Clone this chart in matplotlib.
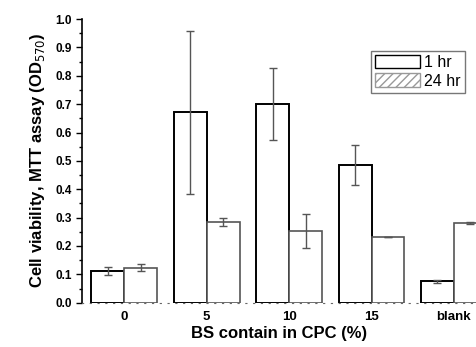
import matplotlib
matplotlib.use("Agg")
import matplotlib.pyplot as plt
from matplotlib.patches import Patch
from matplotlib.ticker import MultipleLocator, FormatStrFormatter
import numpy as np

plt.rcParams['font.family'] = ['Liberation Sans', 'DejaVu Sans']

# data
groups = ["0", "5", "10", "15", "blank"]
od_1hr = [0.112, 0.672, 0.700, 0.485, 0.075]
err_1hr = [0.015, 0.287, 0.126, 0.070, 0.005]
od_24hr = [0.124, 0.285, 0.252, 0.233, 0.282]
err_24hr = [0.012, 0.013, 0.060, 0.0, 0.003]

x = np.arange(len(groups))
w = 0.4

fig = plt.figure(figsize=(4.76, 3.47), dpi=100)
ax = fig.add_axes([0.1723, 0.1277, 0.8277, 0.8173])

ax.bar(x - w / 2, od_1hr, w, facecolor='white', edgecolor='black', linewidth=1.4,
       yerr=err_1hr, error_kw=dict(ecolor='#555555', elinewidth=1, capsize=3, capthick=1))
ax.bar(x + w / 2, od_24hr, w, facecolor='white', edgecolor='#555555', linewidth=1.2,
       yerr=err_24hr, error_kw=dict(ecolor='#555555', elinewidth=1, capsize=3, capthick=1))

ax.set_xlim(-0.51, 4.267)
ax.set_ylim(0, 1.0)
ax.yaxis.set_major_locator(MultipleLocator(0.1))
ax.yaxis.set_minor_locator(MultipleLocator(0.05))
ax.yaxis.set_major_formatter(FormatStrFormatter('%.1f'))
ax.tick_params(axis='y', which='major', length=4, width=1, direction='out', labelsize=8.5)
ax.tick_params(axis='y', which='minor', length=2.5, width=1, direction='out')
for lab in ax.get_yticklabels():
    lab.set_fontweight('bold')
ax.set_xticks(x)
ax.set_xticklabels(groups, fontsize=9.5, fontweight='bold')
ax.tick_params(axis='x', length=0, pad=6)

for s in ['top', 'right']:
    ax.spines[s].set_visible(False)
ax.spines['left'].set_linewidth(1.2)
ax.spines['bottom'].set_linestyle((0, (1, 6)))
ax.spines['bottom'].set_color('#666666')

ax.set_ylabel("Cell viability, MTT assay (OD$_{570}$)", fontsize=12, fontweight='bold', labelpad=6)
ax.set_xlabel("BS contain in CPC (%)", fontsize=12, fontweight='bold', labelpad=2)

handles = [Patch(facecolor='white', edgecolor='black', linewidth=1, label='1 hr'),
           Patch(facecolor='white', edgecolor='#999999', hatch='////', linewidth=1, label='24 hr')]
leg = ax.legend(handles=handles, loc='upper left', bbox_to_anchor=(0.733, 0.887),
                fontsize=11.5, frameon=True, fancybox=False, edgecolor='#555555',
                handlelength=2.8, handleheight=0.9, handletextpad=0.3,
                borderpad=0.25, labelspacing=0.2, borderaxespad=0)
leg.get_frame().set_linewidth(1)

fig.savefig("out.png", dpi=100)
